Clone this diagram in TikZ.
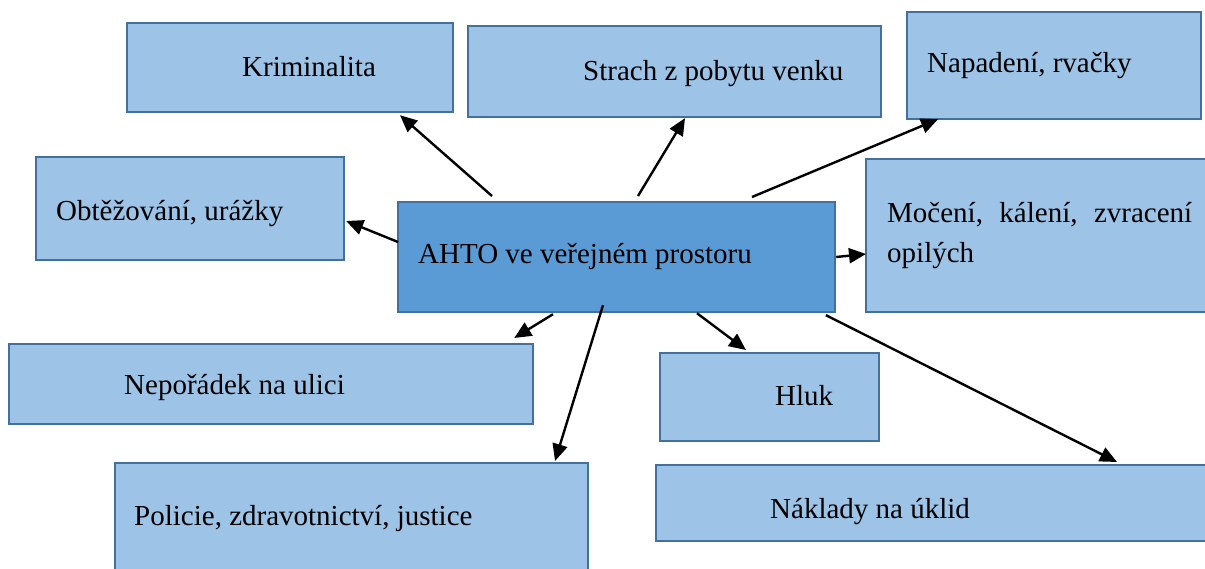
\documentclass[tikz,border=0pt]{standalone}
\usepackage{fontspec}
\setmainfont{Liberation Serif}
\usetikzlibrary{arrows.meta,calc}
\definecolor{boxfill}{HTML}{9DC3E6}
\definecolor{boxline}{HTML}{41719C}
\definecolor{mainfill}{HTML}{5B9BD5}
\tikzset{
  box/.style={draw=boxline, fill=boxfill, line width=2.2pt, inner sep=0pt, anchor=north west},
  mainbox/.style={box, fill=mainfill},
  lbl/.style={anchor=base west, inner sep=0pt, font=\fontsize{29}{36}\selectfont},
  conn/.style={line width=2.4pt, -{Triangle[length=17pt,width=15pt]}},
}
\begin{document}
\begin{tikzpicture}[x=1pt,y=-1pt]
\clip (0,0) rectangle (1205,568);
\fill[white] (0,0) rectangle (1205,568);
% boxes
\node[box, minimum width=326pt, minimum height=89pt] (krim) at (126,22) {};
\node[box, minimum width=413pt, minimum height=91pt] (strach) at (467,25) {};
\node[box, minimum width=294pt, minimum height=107pt] (napad) at (906,11) {};
\node[box, minimum width=308pt, minimum height=103pt] (obt) at (35,156) {};
\node[mainbox, minimum width=437pt, minimum height=110pt] (ahto) at (397,201) {};
\node[box, minimum width=350pt, minimum height=153pt] (moc) at (865,158) {};
\node[box, minimum width=524pt, minimum height=80pt] (nep) at (8,343) {};
\node[box, minimum width=219pt, minimum height=88pt] (hluk) at (659,352) {};
\node[box, minimum width=473pt, minimum height=120pt] (pol) at (114,462) {};
\node[box, minimum width=560pt, minimum height=76pt] (nakl) at (655,464) {};
% labels
\node[lbl] (tkrim) at (242,76) {Kriminalita};
\node[lbl] (tstrach) at (583,80) {Strach z pobytu venku};
\node[lbl] (tnapad) at (927,72) {Napadení, rvačky};
\node[lbl] (tobt) at (56,220) {Obtěžování, urážky};
\node[lbl] (tahto) at (418,263) {AHTO ve veřejném prostoru};
\node[lbl] (tmoc1) at (887,222) {\makebox[305pt][s]{Močení, kálení, zvracení}};
\node[lbl] (tmoc2) at (887,262) {opilých};
\node[lbl] (tnep) at (124,394) {Nepořádek na ulici};
\node[lbl] (thluk) at (775,405) {Hluk};
\node[lbl] (tpol) at (134,525) {Policie, zdravotnictví, justice};
\node[lbl] (tnakl) at (770,518) {Náklady na úklid};
% connectors
\draw[conn] ([shift={(95,-5)}]ahto.north west) -- ([shift={(274,2)}]krim.south west);
\draw[conn] ([shift={(241,-5)}]ahto.north west) -- ([shift={(218,0)}]strach.south west);
\draw[conn] ([shift={(355,-4)}]ahto.north west) -- ([shift={(32,-1)}]napad.south west);
\draw[conn] ([shift={(1,41)}]ahto.north west) -- ([shift={(1,65)}]obt.north east);
\draw[conn] ([shift={(0,56)}]ahto.north east) -- ([shift={(1,96)}]moc.north west);
\draw[conn] ([shift={(156,1)}]ahto.south west) -- ([shift={(-20,-5)}]nep.north east);
\draw[conn] ([shift={(206,-8)}]ahto.south west) -- ([shift={(441,-1)}]pol.north west);
\draw[conn] ([shift={(300,0)}]ahto.south west) -- ([shift={(87,-2)}]hluk.north west);
\draw[conn] ([shift={(429,2)}]ahto.south west) -- ([shift={(462,-2)}]nakl.north west);
\end{tikzpicture}
\end{document}
